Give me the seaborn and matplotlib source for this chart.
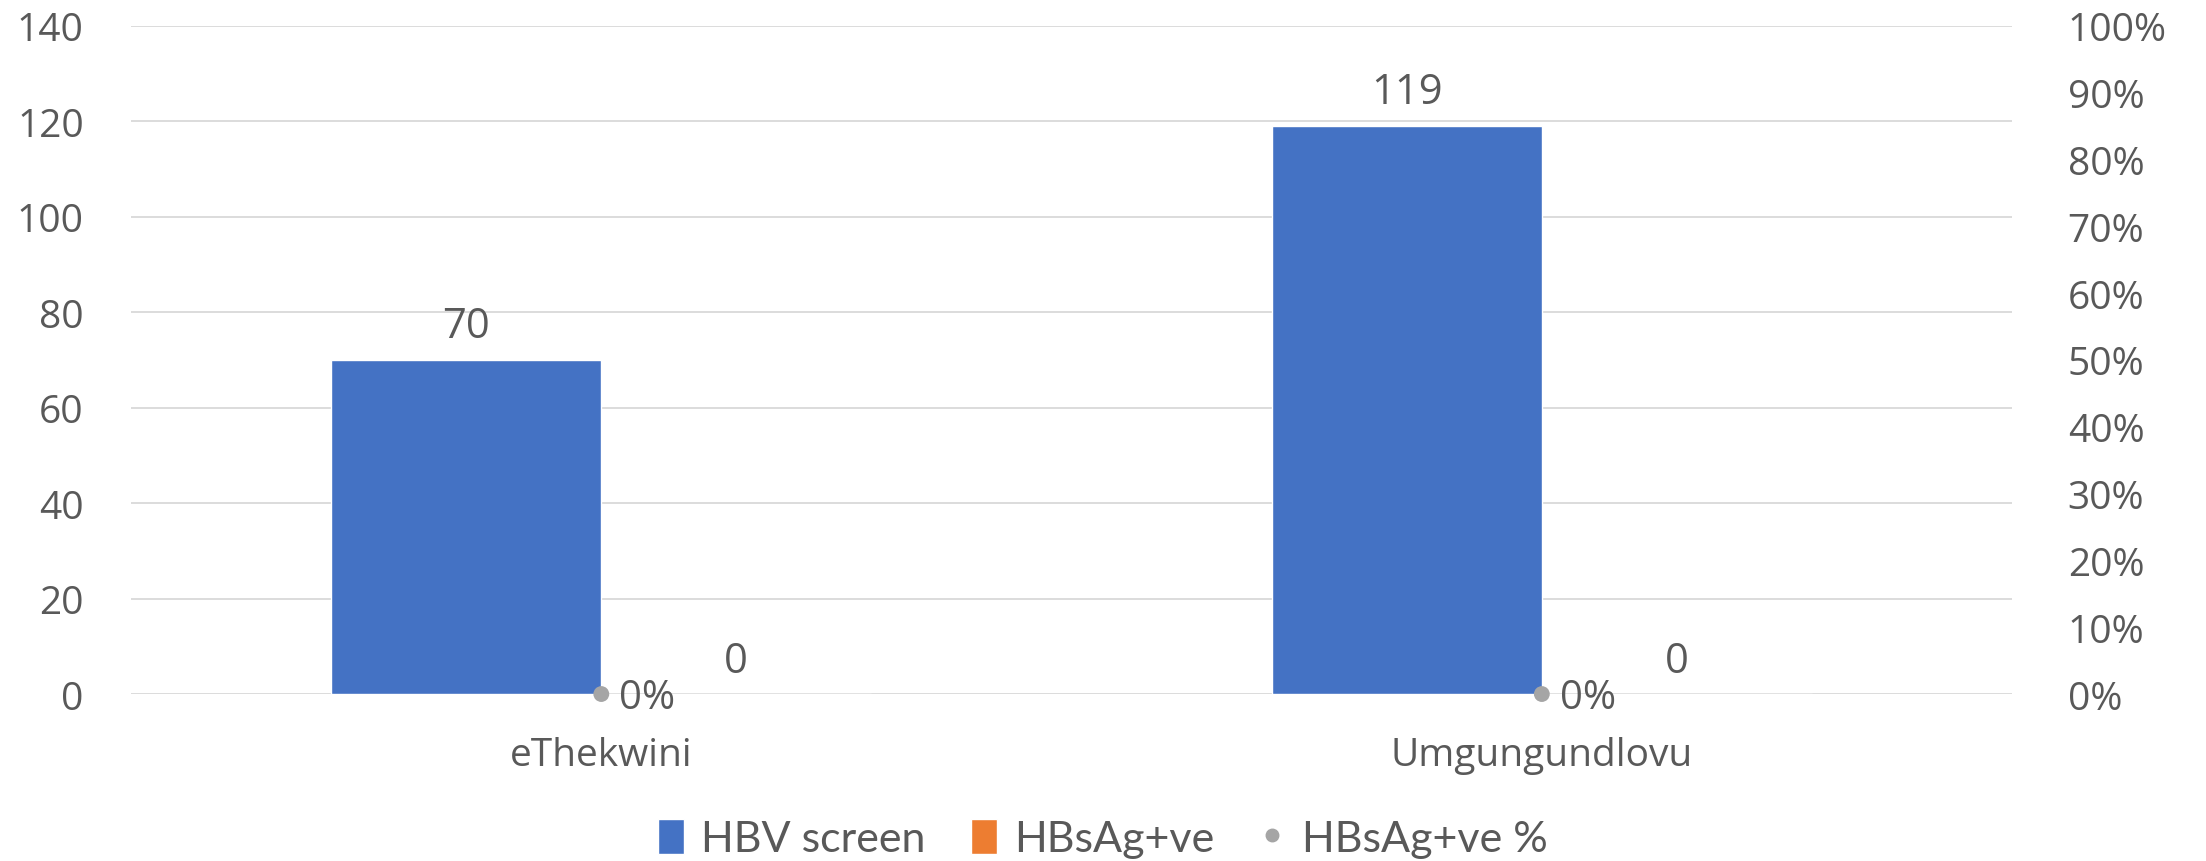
import matplotlib
matplotlib.use("Agg")
import matplotlib.pyplot as plt
from matplotlib.lines import Line2D
from matplotlib.patches import Patch
from matplotlib.ticker import PercentFormatter
import pandas as pd
import seaborn as sns

districts = ["eThekwini", "Umgungundlovu"]
hbv_screen = [70, 119]
hbsag_pos = [0, 0]
hbsag_pct = [0.0, 0.0]

series_names = ["HBV screen", "HBsAg+ve", "HBsAg+ve %"]
blue, orange, grey = "#4472C4", "#ED7D31", "#A5A5A5"
text_col = "#595959"
fs = 28

sns.set_theme(style="white")
plt.rcParams["font.family"] = ["Open Sans", "DejaVu Sans"]

df = pd.DataFrame({
    "district": districts * 2,
    "series": [series_names[0]] * 2 + [series_names[1]] * 2,
    "value": hbv_screen + hbsag_pos,
})
pct_df = pd.DataFrame({"district": districts, "pct": hbsag_pct})

fig = plt.figure(figsize=(22.06, 8.62), dpi=100)
ax = fig.add_axes([0.0594, 0.1937, 0.8527, 0.7753])

sns.barplot(data=df, x="district", y="value", hue="series",
            palette=[blue, orange], width=0.574, gap=0, ax=ax,
            legend=False, saturation=1)

# etiquetas de datos sobre las barras
for cont in ax.containers:
    ax.bar_label(cont, fmt="%d", padding=9, fontsize=30, color=text_col)

ax.set_ylim(0, 140)
ax.set_yticks(range(0, 141, 20))
ax.set_xlim(-0.5, 1.5)
ax.yaxis.grid(True, color="#D9D9D9", linewidth=1.3)
ax.set_axisbelow(True)
ax.set_xlabel("")
ax.set_ylabel("")
ax.tick_params(axis="y", length=0, pad=34, labelsize=fs, labelcolor=text_col)
ax.tick_params(axis="x", length=0, pad=30, labelsize=fs, labelcolor=text_col)
for s in ax.spines.values():
    s.set_visible(False)

ax2 = ax.twinx()
sns.scatterplot(data=pct_df, x="district", y="pct", color=grey, s=130,
                edgecolor="none", ax=ax2, clip_on=False, zorder=5)
for i, v in enumerate(hbsag_pct):
    ax2.annotate(f"{v:.0%}", (i, v), xytext=(13, -3), textcoords="offset points",
                 ha="left", va="center", fontsize=29, color=text_col)
ax2.set_ylim(0, 1)
ax2.set_yticks([i / 10 for i in range(11)])
ax2.yaxis.set_major_formatter(PercentFormatter(1.0, decimals=0))
ax2.set_ylabel("")
ax2.tick_params(axis="y", length=0, pad=40, labelsize=fs, labelcolor=text_col)
for s in ax2.spines.values():
    s.set_visible(False)
ax2.set_xlim(-0.5, 1.5)

handles = [
    Patch(facecolor=blue, label=series_names[0]),
    Patch(facecolor=orange, label=series_names[1]),
    Line2D([], [], marker="o", linestyle="none", color=grey, markersize=9,
           label=series_names[2]),
]
fig.legend(handles=handles, loc="center", bbox_to_anchor=(0.5, 0.026), ncol=3,
           frameon=False, prop={"family": ["Lato", "DejaVu Sans"], "size": 31},
           labelcolor=text_col, handlelength=0.6, handleheight=0.9,
           columnspacing=1.05, handletextpad=0.4)

fig.savefig("out.png", dpi=100)
